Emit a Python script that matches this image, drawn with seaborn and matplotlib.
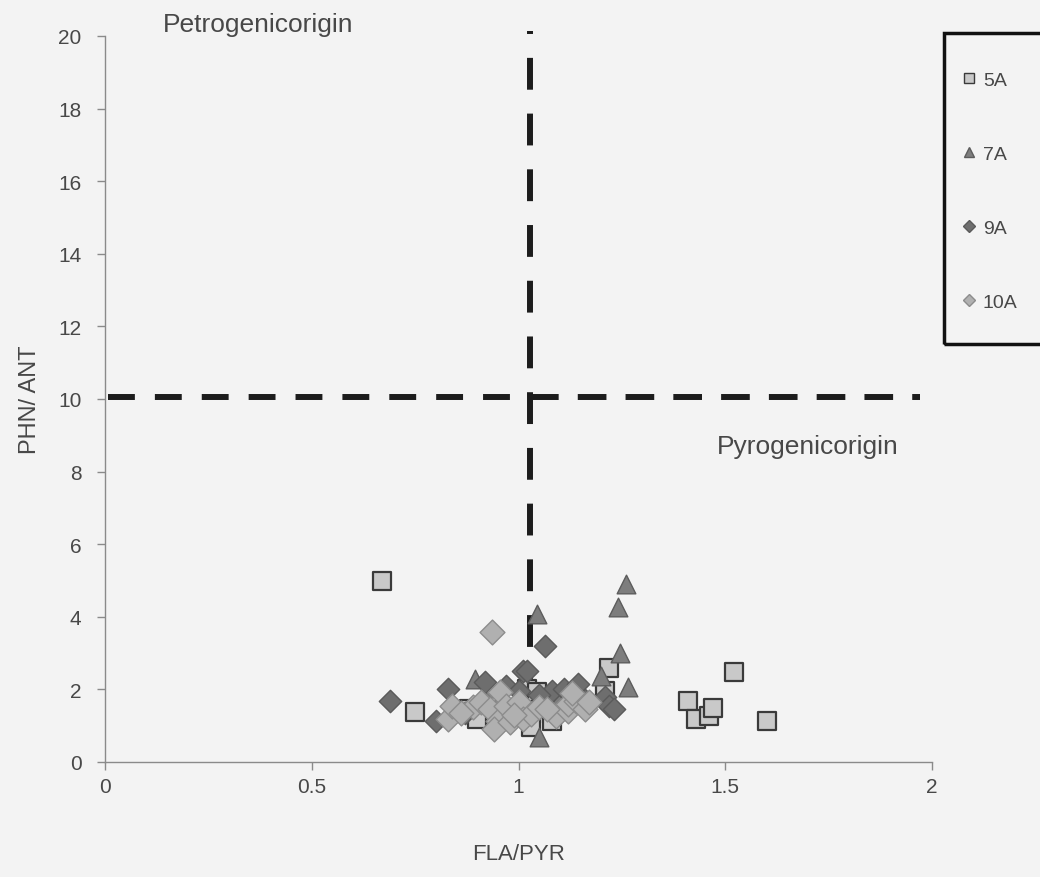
import matplotlib
matplotlib.use("Agg")
import matplotlib.pyplot as plt
import seaborn as sns
import pandas as pd
from matplotlib.lines import Line2D
from matplotlib.patches import Rectangle

# ---- data ----
x_5a = [0.67, 0.75, 0.88, 0.90, 1.02, 1.03, 1.03, 1.045, 1.08, 1.21, 1.22, 1.41, 1.43, 1.46, 1.47, 1.52, 1.60]
y_5a = [4.99, 1.38, 1.46, 1.18, 2.0, 1.32, 0.96, 1.93, 1.13, 1.96, 2.6, 1.68, 1.18, 1.27, 1.5, 2.48, 1.13]

x_7a = [0.895, 0.93, 0.96, 1.045, 1.05, 1.20, 1.245, 1.24, 1.26, 1.265, 1.0, 1.10]
y_7a = [2.29, 2.05, 1.85, 4.08, 0.69, 2.37, 3.0, 4.27, 4.9, 2.06, 1.75, 1.8]

x_9a = [0.69, 0.80, 0.83, 0.92, 0.97, 1.01, 1.02, 1.064, 1.08, 1.11, 1.145, 1.21, 1.22, 1.23, 0.87, 1.0, 1.05, 1.16]
y_9a = [1.68, 1.13, 2.0, 2.2, 2.1, 2.5, 2.5, 3.2, 1.96, 2.0, 2.15, 1.79, 1.55, 1.46, 1.35, 1.95, 1.85, 1.7]

x_10a = [0.83, 0.84, 0.89, 0.91, 0.93, 0.955, 0.95, 0.94, 0.98, 0.97, 1.0, 1.01, 1.03, 1.05, 1.09, 1.12, 1.12,
         1.14, 1.16, 1.17, 0.935, 0.86, 1.07, 1.13, 0.99]
y_10a = [1.18, 1.55, 1.52, 1.65, 1.46, 1.93, 1.13, 0.9, 1.1, 1.55, 1.65, 1.18, 1.32, 1.52, 1.27, 1.4, 1.6,
         1.68, 1.46, 1.65, 3.58, 1.35, 1.45, 1.9, 1.3]

series = ["5A", "7A", "9A", "10A"]
markers = {"5A": "s", "7A": "^", "9A": "D", "10A": "D"}
fills = {"5A": "#c9c9c9", "7A": "#7d7d7d", "9A": "#6e6e6e", "10A": "#b0b0b0"}
edges = {"5A": "#3a3a3a", "7A": "#5c5c5c", "9A": "#5a5a5a", "10A": "#8c8c8c"}
sizes = {"5A": 160, "7A": 180, "9A": 130, "10A": 160}

# reference (boundary) lines
vline_x = [1.027, 1.027]
vline_y = [20.14, 1.40]
hline_left_x = [0.007, 0.99]
hline_right_x = [1.027, 1.971]
hline_y = [10.06, 10.06]

x_ticks = [0, 0.5, 1, 1.5, 2]
x_ticklabels = ["0", "0.5", "1", "1.5", "2"]
y_ticks = list(range(0, 21, 2))

df = pd.concat([
    pd.DataFrame({"FLA/PYR": x_5a, "PHN/ ANT": y_5a, "site": "5A"}),
    pd.DataFrame({"FLA/PYR": x_7a, "PHN/ ANT": y_7a, "site": "7A"}),
    pd.DataFrame({"FLA/PYR": x_9a, "PHN/ ANT": y_9a, "site": "9A"}),
    pd.DataFrame({"FLA/PYR": x_10a, "PHN/ ANT": y_10a, "site": "10A"}),
], ignore_index=True)

sns.set_style("white")
plt.rcParams['font.family'] = ['Liberation Sans', 'DejaVu Sans']
bg = "#f3f3f3"
txt = "#484848"
dash_col = "#1c1c1c"

fig = plt.figure(figsize=(10.4, 8.78), dpi=100, facecolor=bg)
ax = fig.add_axes([105/1040, 115/878, 827/1040, 726/878])
ax.set_facecolor(bg)

lw = 4.3
ax.plot(hline_left_x, hline_y, color=dash_col, lw=lw, linestyle=(0, (4.5, 3.35)),
        solid_capstyle="butt", dash_capstyle="butt", zorder=1)
ax.plot(hline_right_x, hline_y, color=dash_col, lw=lw, linestyle=(0, (4.8, 3.2)),
        solid_capstyle="butt", dash_capstyle="butt", zorder=1)
ax.plot(vline_x, vline_y, color=dash_col, lw=lw, linestyle=(4.83, (5.33, 4.0)),
        solid_capstyle="butt", dash_capstyle="butt", zorder=1, clip_on=False)

for s in series:
    sub = df[df["site"] == s]
    sns.scatterplot(data=sub, x="FLA/PYR", y="PHN/ ANT", marker=markers[s], color=fills[s],
                    edgecolor=edges[s], linewidth=1.6 if s == "5A" else 1.0, s=sizes[s],
                    ax=ax, legend=False, zorder=3)

ax.set_xlim(0, 2)
ax.set_ylim(0, 20)
ax.set_xticks(x_ticks)
ax.set_xticklabels(x_ticklabels)
ax.set_yticks(y_ticks)
for sp in ["top", "right"]:
    ax.spines[sp].set_visible(False)
for sp in ["left", "bottom"]:
    ax.spines[sp].set_color("#8a8a8a")
    ax.spines[sp].set_linewidth(1.0)
ax.tick_params(axis="both", direction="out", length=6, width=1, color="#8a8a8a",
               labelsize=15, labelcolor=txt, left=True, bottom=True)
ax.tick_params(axis="x", pad=5)
ax.tick_params(axis="y", pad=11)
ax.set_xlabel("FLA/PYR", fontsize=16, color=txt, labelpad=34)
ax.set_ylabel("PHN/ ANT", fontsize=17, color=txt, labelpad=12)

ax.text(0.14, 20.33, "Petrogenicorigin", fontsize=19, color=txt, ha="left", va="center", clip_on=False)
ax.text(1.48, 8.7, "Pyrogenicorigin", fontsize=19, color=txt, ha="left", va="center")

handles = [Line2D([], [], marker=markers[s], linestyle="none", markersize=6.5 if s != "7A" else 7.5,
                  markerfacecolor=fills[s], markeredgecolor=edges[s], markeredgewidth=1.0)
           for s in series]
leg = fig.legend(handles, series, loc="upper left", bbox_to_anchor=(961/1040, 1 - 72/878),
                 frameon=False, fontsize=14, labelspacing=2.9,
                 handlelength=0.8, handletextpad=0.33, borderpad=0, borderaxespad=0)
for t in leg.get_texts():
    t.set_color(txt)

fig.patches.append(Rectangle((944/1040, 1 - 345/878), 110/1040, 311/878, transform=fig.transFigure,
                             fill=False, edgecolor="#111111", linewidth=2.5, zorder=5))

fig.savefig("out.png", dpi=100, facecolor=bg)
